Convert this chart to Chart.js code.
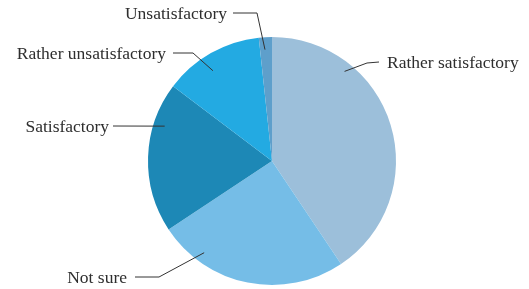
<!DOCTYPE html>
<html>
<head>
<meta charset="utf-8">
<script src="https://cdn.jsdelivr.net/npm/chart.js@4.4.0/dist/chart.umd.min.js"></script>
<style>
html,body{margin:0;padding:0;background:#fff;}
#wrap{width:529px;height:289px;position:relative;}
</style>
</head>
<body>
<div id="wrap"><canvas id="c" width="529" height="289"></canvas></div>
<script>
const categories = ["Rather satisfactory", "Not sure", "Satisfactory", "Rather unsatisfactory", "Unsatisfactory"];
const shares = [40.6, 25.1, 19.6, 13.0, 1.7];
const colors = ["#9CBFDA", "#75BDE7", "#1D88B6", "#23AAE2", "#5E9FCB"];

// label layout: anchor angle (deg from 12 o'clock), radius fraction, elbow & line end & text offsets from pie centre
const labelLayout = [
  {deg: 39,    frac: 0.93, elbow: [95, -98],   end: [107, -99],  text: [115, -99],  align: "left"},
  {deg: 216.5, frac: 0.92, elbow: [-113, 116], end: [-137, 116], text: [-145, 116], align: "right"},
  {deg: 288,   frac: 0.91, elbow: null,        end: [-159, -35], text: [-163, -35], align: "right"},
  {deg: 326.8, frac: 0.87, elbow: [-79, -108], end: [-99, -108], text: [-106, -108], align: "right"},
  {deg: 356.4, frac: 0.90, elbow: [-15, -148], end: [-39, -148], text: [-45, -148], align: "right"}
];

const labelPlugin = {
  id: "leaderLabels",
  afterDraw(chart) {
    const ctx = chart.ctx;
    const arcs = chart.getDatasetMeta(0).data;
    ctx.save();
    ctx.strokeStyle = "#333333";
    ctx.lineWidth = 1;
    ctx.fillStyle = "#2e2e2e";
    ctx.font = '17.5px "Liberation Serif"';
    ctx.textBaseline = "middle";
    arcs.forEach((arc, i) => {
      const L = labelLayout[i];
      const cx = arc.x, cy = arc.y, R = arc.outerRadius;
      const a = (L.deg - 90) * Math.PI / 180;
      const ax = cx + L.frac * R * Math.cos(a);
      const ay = cy + L.frac * R * Math.sin(a);
      ctx.beginPath();
      ctx.moveTo(ax, ay);
      if (L.elbow) ctx.lineTo(cx + L.elbow[0], cy + L.elbow[1]);
      ctx.lineTo(cx + L.end[0], cy + L.end[1]);
      ctx.stroke();
      ctx.textAlign = L.align;
      ctx.fillText(categories[i], cx + L.text[0], cy + L.text[1] + 1);
    });
    ctx.restore();
  }
};

new Chart(document.getElementById("c"), {
  type: "pie",
  data: {
    labels: categories,
    datasets: [{
      data: shares,
      backgroundColor: colors,
      borderWidth: 0
    }]
  },
  options: {
    responsive: false,
    animation: false,
    layout: {padding: {left: 148, right: 133, top: 37, bottom: 4}},
    plugins: {legend: {display: false}, tooltip: {enabled: false}}
  },
  plugins: [labelPlugin]
});
</script>
</body>
</html>
